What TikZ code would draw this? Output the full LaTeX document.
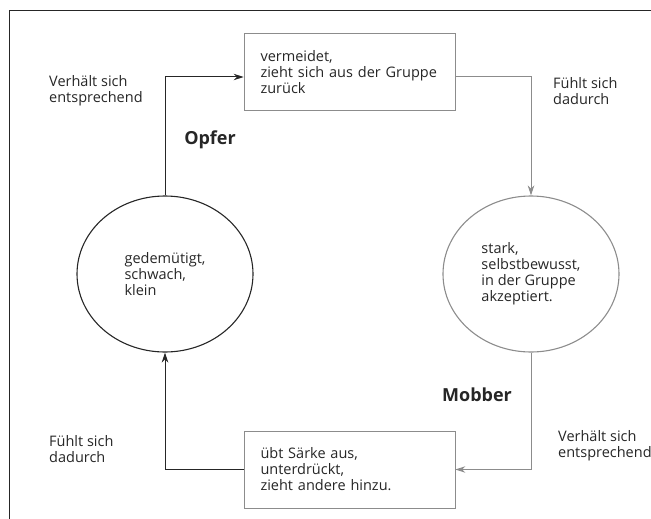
\documentclass[tikz,border=0pt]{standalone}
\usepackage{fontspec}
\setmainfont{Open Sans}
\usetikzlibrary{shapes.geometric,arrows.meta}

\begin{document}
\begin{tikzpicture}[x=1pt,y=-1pt,
  every node/.style={font=\fontsize{14.5}{16}\selectfont, text=black!85},
  kasten/.style={draw=black!45, line width=.8pt, rectangle, minimum height=77,
    text width=178pt, inner xsep=16.5pt, align=left},
  kreis/.style={ellipse, minimum width=176, minimum height=156, line width=1.1pt,
    align=left, inner sep=0pt},
  beschr/.style={anchor=west, align=left, inner sep=0pt},
  titel/.style={font=\fontsize{18}{20}\selectfont\bfseries},
  pfeil/.style={line width=1pt, -{Stealth[length=10pt,width=6.5pt]}}]
  \useasboundingbox (0,0) rectangle (651,519);
  % Rahmen
  \draw[black!85, line width=1pt] (9,519) |- (651,10.5);
  % Kaesten und Kreise
  \node[kasten]                (rueckzug) at (349.5,72)  {vermeidet,\\zieht sich aus der Gruppe\\zurück};
  \node[kasten]                (staerke)  at (349.5,469.5) {übt Särke aus,\\unterdrückt,\\zieht andere hinzu.};
  \node[kreis, draw=black!85]  (opfer)    at (165,274)   {gedemütigt,\\schwach,\\klein};
  \node[kreis, draw=black!45]  (mobber)   at (531,274)   {stark,\\selbstbewusst,\\in der Gruppe\\akzeptiert.};
  \node[titel] (opfertitel)  at (210,140) {Opfer};
  \node[titel] (mobbertitel) at (477,395) {Mobber};
  % Beschriftungen
  \node[beschr] (verhaeltoben) at (49,91)    {Verhält sich\\entsprechend};
  \node[beschr] (fuehltoben)   at (553,91)   {Fühlt sich\\dadurch};
  \node[beschr] (fuehltunten)  at (49,449.5) {Fühlt sich\\dadurch};
  \node[beschr] (verhaeltunten) at (558,445.5) {Verhält sich\\entsprechend};
  % Pfeile
  \draw[pfeil, black!85] (opfer.north) |- ([yshift=-5]rueckzug.west);
  \draw[pfeil, black!45] ([yshift=-5]rueckzug.east) -| (mobber.north);
  \draw[pfeil, black!45] (mobber.south) |- (staerke.east);
  \draw[pfeil, black!85] (staerke.west) -| (opfer.south);
\end{tikzpicture}
\end{document}
